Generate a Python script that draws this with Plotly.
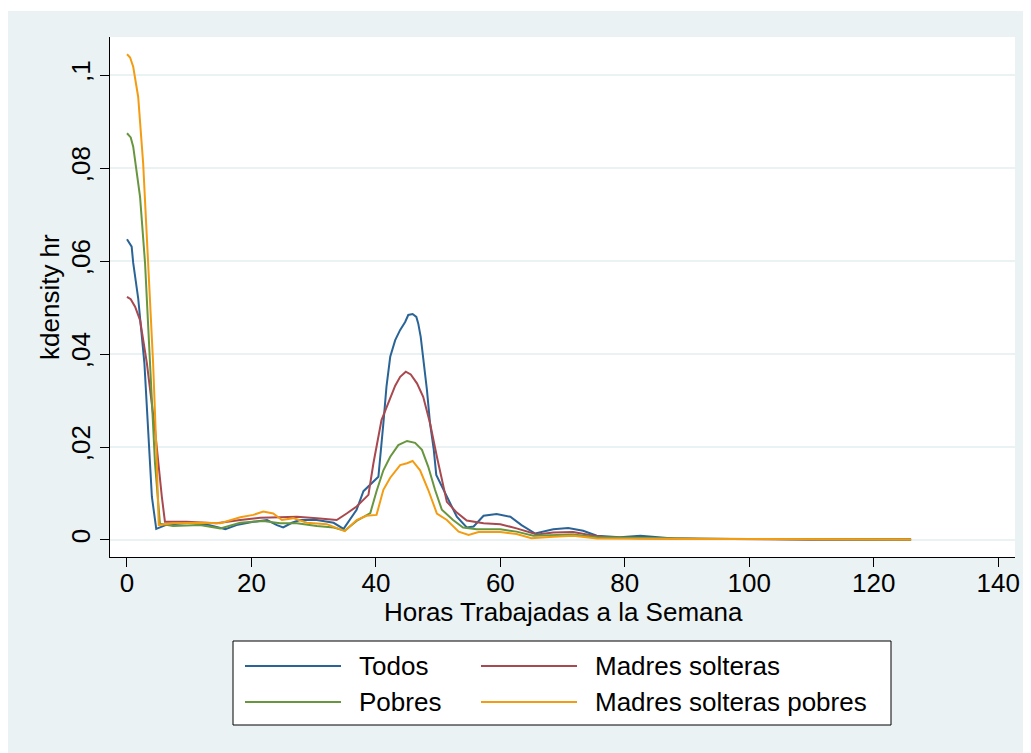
import plotly.graph_objects as go

# ---------------- data ----------------
todos_x = [0, 0.75, 1.0, 1.8, 2.8, 3.4, 4.0, 4.7, 6.4, 10.1, 13.3, 15.8, 17.6, 20.3, 22.5, 24.1, 25.1, 26.5,
           27.8, 30.5, 33.2, 34.8, 36.9, 38.0, 40.4, 41.2, 41.7, 42.3, 43.1, 43.9, 44.7, 45.2, 45.9, 46.5,
           46.8, 47.2, 47.6, 48.2, 48.7, 49.3, 49.7, 51.4, 53.0, 54.6, 55.7, 57.3, 59.4, 61.6, 63.4, 65.6,
           68.5, 70.9, 73.3, 75.5, 79.2, 82.5, 85.7, 87.8, 92, 96, 100, 104, 110, 118, 126]
todos_y = [0.0647, 0.0631, 0.0596, 0.052, 0.038, 0.0237, 0.0093, 0.0024, 0.0033, 0.0037, 0.0032, 0.0023,
           0.0032, 0.0039, 0.0043, 0.0032, 0.0027, 0.0037, 0.0043, 0.0043, 0.0037, 0.0024, 0.0065, 0.0105,
           0.0136, 0.0251, 0.033, 0.0394, 0.043, 0.0452, 0.0469, 0.0484, 0.0486, 0.048, 0.0466, 0.0437,
           0.0394, 0.0323, 0.0251, 0.0194, 0.014, 0.0093, 0.005, 0.0027, 0.0029, 0.0052, 0.0056, 0.005,
           0.0032, 0.0014, 0.0023, 0.0026, 0.002, 0.0009, 0.0006, 0.0009, 0.0006, 0.0003, 0.0002, 0.0002,
           0.0003, 0.0002, 0.0001, 0.0001, 0.0001]

madres_x = [0, 0.6, 1.3, 2.1, 3.2, 4.5, 5.6, 6.1, 9.6, 14.4, 18.2, 21.4, 24.6, 27.3, 30.5, 33.7, 35.3, 36.9,
            38.8, 39.6, 40.9, 42.3, 43.1, 43.9, 44.8, 45.6, 46.6, 47.6, 48.7, 49.8, 51.4, 53.0, 54.6, 57.3,
            60.0, 62.6, 65.9, 68.5, 71.7, 75.0, 77.1, 82, 90, 100, 110, 126]
madres_y = [0.0523, 0.0518, 0.0502, 0.0473, 0.038, 0.0237, 0.0093, 0.0039, 0.0039, 0.0036, 0.0043, 0.0048,
            0.0049, 0.005, 0.0047, 0.0043, 0.0057, 0.0072, 0.0097, 0.0165, 0.0258, 0.0308, 0.0332, 0.0351,
            0.0362, 0.0356, 0.0337, 0.0308, 0.0251, 0.0179, 0.0082, 0.0059, 0.0042, 0.0036, 0.0034, 0.0025,
            0.0012, 0.0016, 0.0017, 0.0009, 0.0006, 0.0004, 0.0003, 0.0002, 0.0001, 0.0001]

pobres_x = [0, 0.6, 1.0, 2.1, 2.9, 3.7, 4.5, 5.3, 7.4, 11.7, 15.0, 18.2, 21.9, 24.6, 27.3, 30.5, 33.2, 35.0,
            36.9, 39.1, 40.1, 41.2, 42.3, 43.6, 45.0, 46.3, 47.4, 48.4, 49.5, 50.6, 52.4, 54.0, 56.2, 60.0,
            62.6, 65.3, 68.5, 71.7, 75.5, 82, 90, 100, 110, 126]
pobres_y = [0.0875, 0.0866, 0.0846, 0.0738, 0.0596, 0.038, 0.0165, 0.0035, 0.003, 0.0032, 0.0025, 0.0037,
            0.0041, 0.0036, 0.0036, 0.003, 0.0027, 0.002, 0.0041, 0.0058, 0.0105, 0.015, 0.0179, 0.0204,
            0.0213, 0.0209, 0.0194, 0.0158, 0.0108, 0.0065, 0.0043, 0.0027, 0.0023, 0.0023, 0.0018, 0.0009,
            0.0011, 0.0012, 0.0006, 0.0004, 0.0003, 0.0002, 0.0001, 0.0001]

mpobres_x = [0, 0.5, 1.0, 1.8, 2.6, 3.4, 4.2, 4.8, 5.1, 7.4, 11.7, 15.0, 18.2, 20.3, 21.9, 23.5, 24.9, 26.7,
             28.9, 32.1, 35.0, 36.9, 38.5, 40.1, 41.2, 42.3, 43.9, 45.0, 45.9, 47.1, 48.4, 49.8, 51.4, 53.3,
             54.9, 56.5, 60.0, 62.6, 65.0, 68.5, 71.7, 75.5, 82, 90, 100, 110, 126]
mpobres_y = [0.1045, 0.1038, 0.1018, 0.0953, 0.081, 0.0596, 0.038, 0.0165, 0.0032, 0.0036, 0.0037, 0.0036,
             0.0049, 0.0054, 0.0061, 0.0057, 0.0043, 0.0047, 0.0037, 0.0034, 0.0019, 0.0043, 0.0052, 0.0054,
             0.0108, 0.0134, 0.0161, 0.0165, 0.017, 0.015, 0.0108, 0.0057, 0.0043, 0.0018, 0.0011, 0.0017,
             0.0017, 0.0013, 0.0004, 0.0007, 0.0009, 0.0003, 0.0002, 0.0002, 0.0002, 0.0001, 0.0001]

series_names = ["Todos", "Madres solteras", "Pobres", "Madres solteras pobres"]
series_colors = ["#2a6496", "#a8484f", "#68963f", "#f39c12"]

x_tickvals = [0, 20, 40, 60, 80, 100, 120, 140]
x_ticktext = ["0", "20", "40", "60", "80", "100", "120", "140"]
y_tickvals = [0, 0.02, 0.04, 0.06, 0.08, 0.1]
y_ticktext = ["0", ",02", ",04", ",06", ",08", ",1"]

x_title = "Horas Trabajadas a la Semana"
y_title = "kdensity hr"

# ---------------- figure ----------------
BG = "#eaf2f3"
FONT = "Liberation Sans, Arial, Helvetica, sans-serif"
FS = 26

OFF = 8                      # default page margin of the html body
W, H = 1031 - OFF, 753 - OFF
L, R, T, B = 110 - OFF, 16, 37 - OFF, 196
PW, PH = W - L - R, H - T - B


def px2x(px):               # page pixel -> paper coordinate
    return (px - OFF - L) / PW


def px2y(py):
    return (H - B - (py - OFF)) / PH


fig = go.Figure()
xs = [todos_x, madres_x, pobres_x, mpobres_x]
ys = [todos_y, madres_y, pobres_y, mpobres_y]
for name, color, x, y in zip(series_names, series_colors, xs, ys):
    fig.add_trace(go.Scatter(x=x, y=y, mode="lines", name=name,
                             line=dict(color=color, width=2), showlegend=False))

shapes = []
annotations = []
# thin white strip at the top of the image
shapes.append(dict(type="rect", xref="paper", yref="paper", x0=px2x(0), x1=px2x(1040),
                   y0=px2y(11), y1=px2y(0), fillcolor="white", line=dict(width=0), layer="below"))

# legend box (drawn manually to match long legend keys)
shapes.append(dict(type="rect", xref="paper", yref="paper", x0=px2x(233), x1=px2x(891),
                   y0=px2y(725), y1=px2y(641), fillcolor="white", line=dict(color="black", width=1)))
leg_pos = [(245, 666), (481, 666), (245, 702), (481, 702)]
for (lx, ly), name, color in zip(leg_pos, series_names, series_colors):
    shapes.append(dict(type="line", xref="paper", yref="paper", x0=px2x(lx), x1=px2x(lx + 96),
                       y0=px2y(ly), y1=px2y(ly), line=dict(color=color, width=2)))
    annotations.append(dict(xref="paper", yref="paper", x=px2x(lx + 112), y=px2y(ly), text=name,
                            showarrow=False, xanchor="left", yanchor="middle",
                            font=dict(family=FONT, size=FS, color="black")))

# axis titles
annotations.append(dict(xref="paper", yref="paper", x=px2x(563), y=px2y(612), text=x_title,
                        showarrow=False, xanchor="center", yanchor="middle",
                        font=dict(family=FONT, size=FS, color="black")))
annotations.append(dict(xref="paper", yref="paper", x=px2x(50), y=px2y(297), text=y_title,
                        showarrow=False, xanchor="center", yanchor="middle", textangle=-90,
                        font=dict(family=FONT, size=FS, color="black")))

fig.update_layout(
    width=W, height=H,
    margin=dict(l=L, r=R, t=T, b=B, pad=0),
    paper_bgcolor=BG, plot_bgcolor="white",
    font=dict(family=FONT, size=FS, color="black"),
    shapes=shapes, annotations=annotations,
    xaxis=dict(range=[-2.73, 142.7], tickvals=x_tickvals, ticktext=x_ticktext,
               showgrid=False, zeroline=False, showline=True, linecolor="black", linewidth=1,
               ticks="outside", ticklen=9, tickcolor="black", tickwidth=1, ticklabelstandoff=-6,
               tickfont=dict(family=FONT, size=FS, color="black")),
    yaxis=dict(range=[-0.00366, 0.1082], tickvals=y_tickvals, ticktext=y_ticktext,
               showgrid=True, gridcolor=BG, gridwidth=1.5, zeroline=False,
               showline=True, linecolor="black", linewidth=1,
               ticks="outside", ticklen=9, tickcolor="black", tickwidth=1, tickangle=-90,
               tickfont=dict(family=FONT, size=FS, color="black")),
)

fig.write_html("out.html")
